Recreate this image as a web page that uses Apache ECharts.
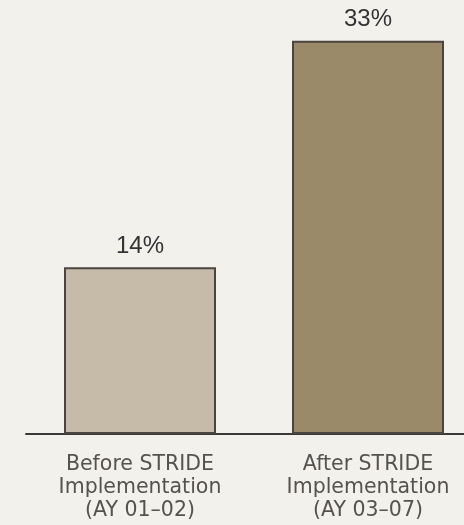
<!DOCTYPE html>
<html>
<head>
<meta charset="utf-8">
<script src="https://cdn.jsdelivr.net/npm/echarts@6/dist/echarts.min.js"></script>
<style>
html,body{margin:0;padding:0;background:#f3f1ec;overflow:hidden;width:464px;height:525px;}
#c{width:482px;height:525px;}
</style>
</head>
<body>
<div id="c"></div>
<script>
const categories = ['Before STRIDE\nImplementation\n(AY 01–02)', 'After STRIDE\nImplementation\n(AY 03–07)'];
const values = [14, 33];
const barColors = ['#c6bba9', '#9a8a6a'];

const chart = echarts.init(document.getElementById('c'));
chart.setOption({
  backgroundColor: '#f3f1ec',
  animation: false,
  grid: { left: 26, right: 0, top: 17, bottom: 91, containLabel: false },
  xAxis: {
    type: 'category',
    data: categories,
    axisLine: { show: true, lineStyle: { color: '#3c3a38', width: 2 } },
    axisTick: { show: false },
    axisLabel: {
      interval: 0,
      margin: 19,
      fontFamily: 'DejaVu Sans',
      fontSize: 20.5,
      lineHeight: 23,
      color: '#555250'
    }
  },
  yAxis: {
    type: 'value',
    min: 0,
    max: 35,
    show: false,
    splitLine: { show: false }
  },
  series: [{
    type: 'bar',
    barWidth: 152,
    data: values.map((v, i) => ({ value: v, itemStyle: { color: barColors[i] } })),
    itemStyle: { borderColor: '#4a4540', borderWidth: 2 },
    label: {
      show: true,
      position: 'top',
      distance: 9,
      formatter: '{c}%',
      fontFamily: 'Liberation Sans',
      fontSize: 24,
      color: '#333336'
    }
  }]
});
</script>
</body>
</html>
